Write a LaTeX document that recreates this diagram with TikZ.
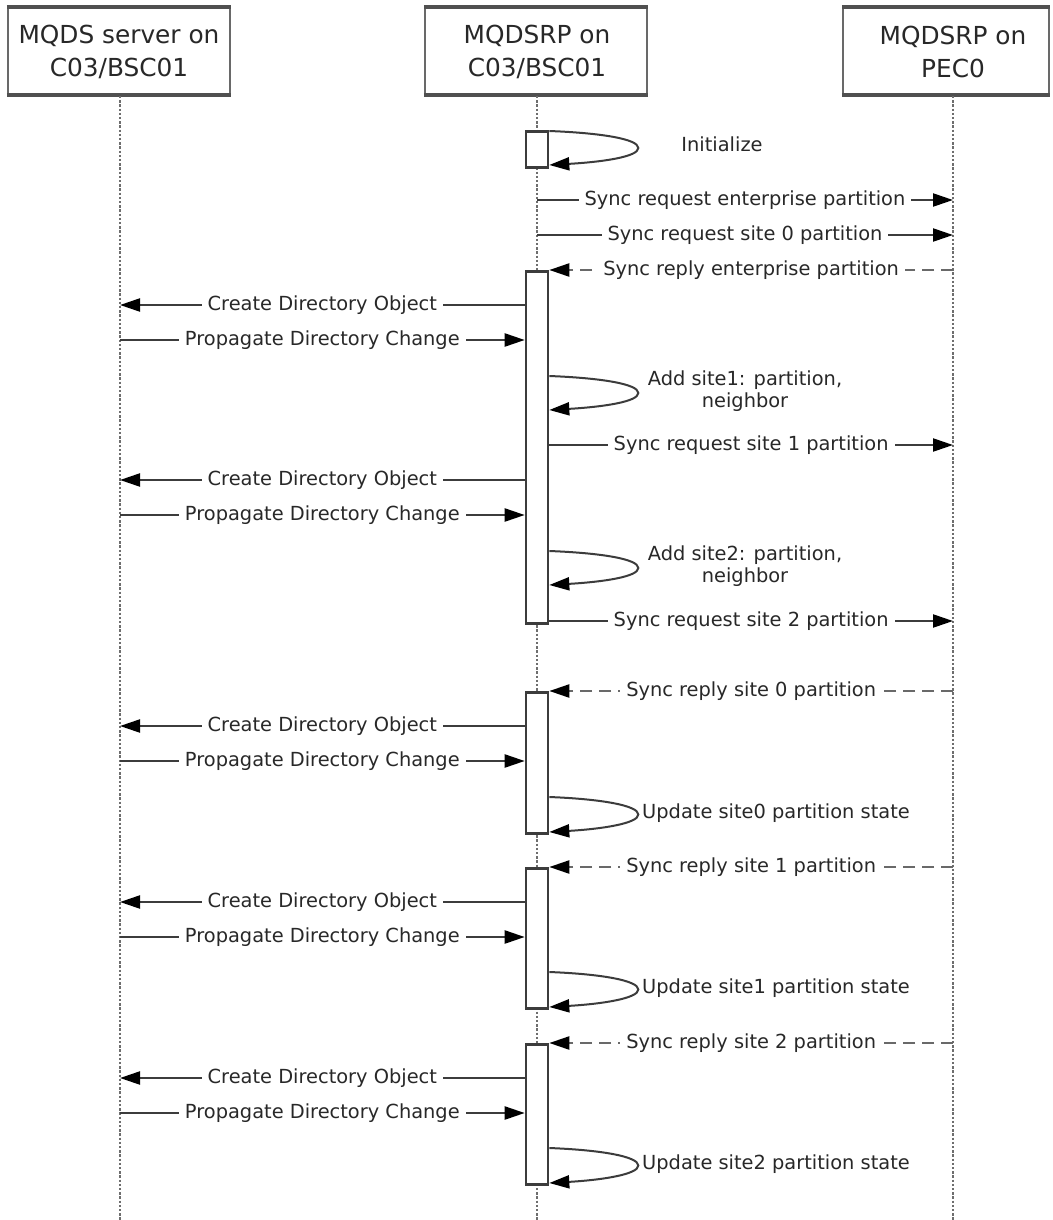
\documentclass[tikz,border=0pt]{standalone}
\usepackage{fontspec}
\setmainfont{DejaVu Sans}
\usetikzlibrary{arrows.meta,calc}
\definecolor{ink}{RGB}{40,40,40}
\definecolor{wire}{RGB}{60,60,60}
\definecolor{dotc}{RGB}{110,110,110}
\definecolor{dashc}{RGB}{105,105,105}
\definecolor{frame}{RGB}{105,105,105}
\definecolor{frameedge}{RGB}{80,80,80}

\begin{document}
\begin{tikzpicture}[x=1pt,y=-1pt,
  every node/.style={text=ink},
  headbox/.style={draw=frame, line width=2.2pt, fill=white, minimum height=86pt, inner sep=0pt},
  headedge/.style={draw=frameedge, line width=4pt},
  headtext/.style={font=\fontsize{24.8}{33}\selectfont, align=center, inner sep=0pt},
  lifeline/.style={draw=dotc, line width=2.6pt, dash pattern=on 2.4pt off 1.8pt},
  act/.style={draw=wire, line width=2.6pt, fill=white, minimum width=22pt, inner sep=0pt, anchor=north},
  tip/.style={-{Triangle[length=20pt,width=13pt,color=black]}},
  msg/.style={draw=wire, line width=2.2pt, tip},
  reply/.style={draw=dashc, line width=2.2pt, dash pattern=on 12pt off 7pt, tip},
  selfloop/.style={draw=wire, line width=2pt, tip},
  lbl/.style={font=\fontsize{19.4}{22.5}\selectfont, fill=white, inner xsep=6pt, inner ysep=1pt},
  note/.style={font=\fontsize{19.4}{22.5}\selectfont, align=center, inner sep=0pt},
]
% canvas and frame
\fill[white] (0,0) rectangle (1052,1220);
\useasboundingbox (0,0) rectangle (1052,1220);

% participant boxes
\node[headbox, minimum width=222pt] (h1) at (119,51) {};
\node[headbox, minimum width=222pt] (h2) at (536,51) {};
\node[headbox, minimum width=206pt] (h3) at (946,51) {};
\foreach \h in {h1,h2,h3}{
  \draw[headedge] (\h.north west) -- (\h.north east);
  \draw[headedge] (\h.south west) -- (\h.south east);
}
\node[headtext] (t1) at (119,52) {MQDS server on\\C03/BSC01};
\node[headtext] (t2) at (537,52) {MQDSRP on\\C03/BSC01};
\node[headtext] (t3) at (953,52) {MQDSRP on\\PEC0};

% lifelines
\coordinate (bot) at (0,1220);
\coordinate (L1) at (120,96);
\coordinate (L2) at (537,96);
\coordinate (L3) at (953,96);
\foreach \l in {L1,L2,L3}{
  \draw[lifeline] (\l) -- (\l |- bot);
}

% message rows
\foreach \n/\y in {s0a/131,s0b/165,m1/200,m2/235,m3/270,m4/305,m5/340,
                   s1a/376,s1b/410,m6/445,m7/480,m8/515,s2a/551,s2b/585,m9/621,
                   m10/691,m11/726,m12/761,s3a/797,s3b/832,
                   m13/867,m14/902,m15/937,s4a/972,s4b/1007,
                   m16/1043,m17/1078,m18/1113,s5a/1148,s5b/1183}{
  \coordinate (\n) at (0,\y);
}

% activation bars
\node[act, minimum height=36pt]  (a0) at (537,130) {};
\node[act, minimum height=352pt] (a1) at (537,270) {};
\node[act, minimum height=141pt] (a2) at (537,691) {};
\node[act, minimum height=140pt] (a3) at (537,867) {};
\node[act, minimum height=140pt] (a4) at (537,1043) {};

% self calls
\newcommand{\selfcall}[3]{%
  \coordinate (#3) at ($(#1)!0.5!(#2)+(89,0)$);
  \draw[selfloop] (#1) .. controls +(52,2) and +(0,-9) .. (#3)
                       .. controls +(0,9) and +(52,-3) .. (#2);
}
\selfcall{a0.east |- s0a}{a0.east |- s0b}{k0}
\selfcall{a1.east |- s1a}{a1.east |- s1b}{k1}
\selfcall{a1.east |- s2a}{a1.east |- s2b}{k2}
\selfcall{a2.east |- s3a}{a2.east |- s3b}{k3}
\selfcall{a3.east |- s4a}{a3.east |- s4b}{k4}
\selfcall{a4.east |- s5a}{a4.east |- s5b}{k5}

\node[note] (n0) at (722,144) {Initialize};
\node[note] (n1) at (745,391) {Add site1: partition,\\neighbor};
\node[note] (n2) at (745,566) {Add site2: partition,\\neighbor};
\node[note, anchor=west] (n3) at (642,813) {Update site0 partition state};
\node[note, anchor=west] (n4) at (642,988) {Update site1 partition state};
\node[note, anchor=west] (n5) at (642,1164) {Update site2 partition state};

% start-up synchronisation
\draw[msg] (L2 |- m1) -- node[lbl] {Sync request enterprise partition} (L3 |- m1);
\draw[msg] (L2 |- m2) -- node[lbl] {Sync request site 0 partition} (L3 |- m2);
\draw[reply] (L3 |- m3) -- node[lbl] {Sync reply enterprise partition} (a1.east |- m3);
\draw[msg] (a1.west |- m4) -- node[lbl] {Create Directory Object} (L1 |- m4);
\draw[msg] (L1 |- m5) -- node[lbl] {Propagate Directory Change} (a1.west |- m5);
\draw[msg] (a1.east |- m6) -- node[lbl] {Sync request site 1 partition} (L3 |- m6);
\draw[msg] (a1.west |- m7) -- node[lbl] {Create Directory Object} (L1 |- m7);
\draw[msg] (L1 |- m8) -- node[lbl] {Propagate Directory Change} (a1.west |- m8);
\draw[msg] (a1.east |- m9) -- node[lbl] {Sync request site 2 partition} (L3 |- m9);

% site replies
\draw[reply] (L3 |- m10) -- node[lbl] {Sync reply site 0 partition} (a2.east |- m10);
\draw[msg] (a2.west |- m11) -- node[lbl] {Create Directory Object} (L1 |- m11);
\draw[msg] (L1 |- m12) -- node[lbl] {Propagate Directory Change} (a2.west |- m12);

\draw[reply] (L3 |- m13) -- node[lbl] {Sync reply site 1 partition} (a3.east |- m13);
\draw[msg] (a3.west |- m14) -- node[lbl] {Create Directory Object} (L1 |- m14);
\draw[msg] (L1 |- m15) -- node[lbl] {Propagate Directory Change} (a3.west |- m15);

\draw[reply] (L3 |- m16) -- node[lbl] {Sync reply site 2 partition} (a4.east |- m16);
\draw[msg] (a4.west |- m17) -- node[lbl] {Create Directory Object} (L1 |- m17);
\draw[msg] (L1 |- m18) -- node[lbl] {Propagate Directory Change} (a4.west |- m18);
\end{tikzpicture}
\end{document}
